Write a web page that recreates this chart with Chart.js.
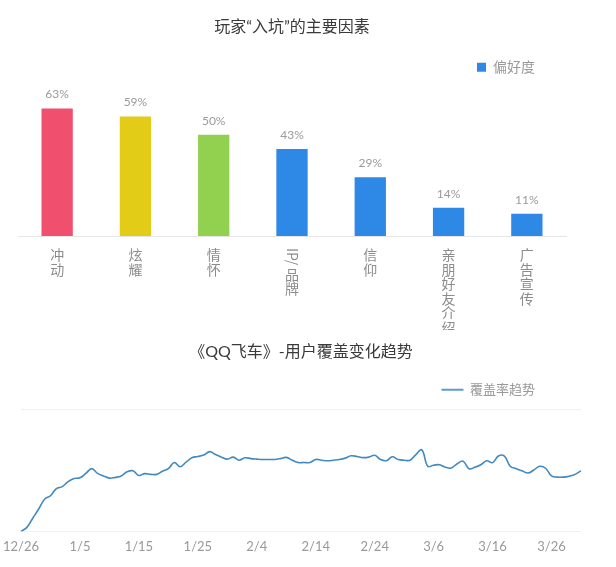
<!DOCTYPE html>
<html>
<head>
<meta charset="utf-8">
<script src="https://cdn.jsdelivr.net/npm/chart.js@4.4.1/dist/chart.umd.min.js"></script>
<style>
html, body { margin: 0; padding: 0; background: #fff; }
#top { position: absolute; left: 0; top: 0; width: 616px; height: 330px; }
#bottom { position: absolute; left: 0; top: 330px; width: 616px; height: 237px; }
</style>
</head>
<body>
<div id="top"><canvas id="barChart"></canvas></div>
<div id="bottom"><canvas id="lineChart"></canvas></div>
<script>
// bar chart data
var factors = ['冲动', '炫耀', '情怀', 'IP/品牌', '信仰', '亲朋好友介绍', '广告宣传'];
var preference = [63, 59, 50, 43, 29, 14, 11];
var barColors = ['#f0506e', '#e2cc18', '#92d050', '#2e89e6', '#2e89e6', '#2e89e6', '#2e89e6'];

// line chart data
var decDays = ['12/26', '12/27', '12/28', '12/29', '12/30', '12/31'];
var janDays = ['1/1', '1/2', '1/3', '1/4', '1/5', '1/6', '1/7', '1/8', '1/9', '1/10',
    '1/11', '1/12', '1/13', '1/14', '1/15', '1/16', '1/17', '1/18', '1/19', '1/20',
    '1/21', '1/22', '1/23', '1/24', '1/25', '1/26', '1/27', '1/28', '1/29', '1/30', '1/31'];
var febDays = ['2/1', '2/2', '2/3', '2/4', '2/5', '2/6', '2/7', '2/8', '2/9', '2/10',
    '2/11', '2/12', '2/13', '2/14', '2/15', '2/16', '2/17', '2/18', '2/19', '2/20',
    '2/21', '2/22', '2/23', '2/24', '2/25', '2/26', '2/27', '2/28'];
var marDays = ['3/1', '3/2', '3/3', '3/4', '3/5', '3/6', '3/7', '3/8', '3/9', '3/10',
    '3/11', '3/12', '3/13', '3/14', '3/15', '3/16', '3/17', '3/18', '3/19', '3/20',
    '3/21', '3/22', '3/23', '3/24', '3/25', '3/26', '3/27', '3/28', '3/29', '3/30', '3/31'];
var dayTicks = ['12/26', '1/5', '1/15', '1/25', '2/4', '2/14', '2/24', '3/6', '3/16', '3/26'];
var coverage = [
    0, 3.3, 10.8, 18.3, 26.3, 29.2, 35, 36.7, 40.8, 43.3,
    43.9, 47.5, 51.4, 47.5, 45.4, 43.6, 44.2, 45.4, 48.8, 49.6,
    45.8, 47.3, 46.7, 46.7, 49.2, 51.4, 56.4, 52.9, 56.7, 60.3,
    61.3, 62.5, 65.3, 62.9, 60.8, 59.2, 60.8, 58.3, 60.3, 59.6,
    59.2, 58.9, 58.9, 58.9, 59.6, 60.6, 58.3, 56.4, 56.4, 56.4,
    58.9, 58.3, 57.8, 58.3, 58.9, 60, 61.9, 61.3, 60.4, 60.8,
    62.3, 58.8, 57.9, 61.1, 58.8, 58.3, 58.3, 62.9, 66.7, 53.3,
    54.2, 54.6, 52.5, 51.9, 55.4, 57.5, 51.3, 52.5, 54.6, 57.8,
    56.3, 61.7, 61.7, 53.3, 51.3, 49.6, 47.8, 50.3, 53.3, 51.7,
    45.4, 44.4, 44.4, 45.2, 46.7, 49.6
];
var days = decDays.concat(janDays, febDays, marDays);

Chart.defaults.font.family = "Lato, 'Noto Sans CJK SC', sans-serif";
Chart.defaults.color = '#999';

// move the legend in from the right edge
var legendShift = {
    id: 'legendShift',
    afterLayout: function (chart, args, opts) {
        if (chart.legend && opts.by) {
            chart.legend.right -= opts.by;
        }
    }
};

// percentages over the bars
var barValues = {
    id: 'barValues',
    afterDatasetsDraw: function (chart) {
        var ctx = chart.ctx;
        var meta = chart.getDatasetMeta(0);
        ctx.save();
        ctx.fillStyle = '#9a9a9a';
        ctx.font = "12px Lato, 'Noto Sans CJK SC', sans-serif";
        ctx.textAlign = 'center';
        ctx.textBaseline = 'middle';
        meta.data.forEach(function (bar, i) {
            ctx.fillText(preference[i] + '%', bar.x, bar.y - 14);
        });
        ctx.restore();
    }
};

// category names written top to bottom, latin runs turned sideways
var verticalLabels = {
    id: 'verticalLabels',
    afterDraw: function (chart) {
        var ctx = chart.ctx;
        var xs = chart.scales.x;
        ctx.save();
        ctx.fillStyle = '#8c8c8c';
        ctx.font = "14px 'Noto Sans CJK SC', sans-serif";
        ctx.textAlign = 'center';
        ctx.textBaseline = 'middle';
        chart.data.labels.forEach(function (label, i) {
            var x = xs.getPixelForTick(i);
            var top = chart.chartArea.bottom + 12;
            var parts = label.match(/[\x00-\x7f]+|[^\x00-\x7f]/g);
            parts.forEach(function (p) {
                if (/^[\x00-\x7f]+$/.test(p)) {
                    var w = ctx.measureText(p).width;
                    ctx.save();
                    ctx.translate(x, top + w / 2);
                    ctx.rotate(Math.PI / 2);
                    ctx.fillText(p, 0, 0);
                    ctx.restore();
                    top += w + 2;
                } else {
                    ctx.fillText(p, x, top + 7);
                    top += 14.5;
                }
            });
        });
        ctx.restore();
    }
};

new Chart(document.getElementById('barChart'), {
    type: 'bar',
    data: {
        labels: factors,
        datasets: [{
            label: '偏好度',
            data: preference,
            backgroundColor: barColors,
            barPercentage: 0.4,
            categoryPercentage: 1
        }]
    },
    options: {
        responsive: true,
        maintainAspectRatio: false,
        animation: false,
        layout: { padding: { left: 18, right: 50, top: 0, bottom: 86 } },
        plugins: {
            title: {
                display: true,
                text: '玩家“入坑”的主要因素',
                color: '#3a3a3a',
                font: { size: 16, weight: 'normal' },
                padding: { top: 17, bottom: 14 }
            },
            legend: {
                display: true,
                align: 'end',
                labels: {
                    boxWidth: 9,
                    boxHeight: 9,
                    padding: 10,
                    color: '#999',
                    font: { size: 14 },
                    generateLabels: function () {
                        return [{ text: '偏好度', fillStyle: '#2e89e6', strokeStyle: '#2e89e6', fontColor: '#999', lineWidth: 0, hidden: false, datasetIndex: 0 }];
                    }
                }
            },
            legendShift: { by: 21 },
            tooltip: { enabled: false }
        },
        scales: {
            x: {
                grid: { display: false },
                border: { display: true, color: '#e6e6e6' },
                ticks: { display: false }
            },
            y: {
                display: false,
                min: 0,
                max: 75
            }
        }
    },
    plugins: [legendShift, barValues, verticalLabels]
});

new Chart(document.getElementById('lineChart'), {
    type: 'line',
    data: {
        labels: days,
        datasets: [{
            label: '覆盖率趋势',
            data: coverage,
            borderColor: '#4189c0',
            borderWidth: 1.6,
            backgroundColor: '#4189c0',
            fill: false,
            pointRadius: 0,
            tension: 0.4
        }]
    },
    options: {
        responsive: true,
        maintainAspectRatio: false,
        animation: false,
        layout: { padding: { left: 21, right: 35, top: 0, bottom: 12 } },
        plugins: {
            title: {
                display: true,
                text: '《QQ飞车》-用户覆盖变化趋势',
                color: '#3a3a3a',
                font: { size: 16, weight: 'normal' },
                padding: { top: 12, bottom: 12 }
            },
            legend: {
                display: true,
                align: 'end',
                labels: {
                    boxWidth: 22,
                    boxHeight: 2,
                    padding: 10,
                    color: '#999',
                    font: { size: 13 },
                    generateLabels: function () {
                        return [{ text: '覆盖率趋势', fillStyle: '#5b9bd5', strokeStyle: '#5b9bd5', fontColor: '#999', lineWidth: 0, hidden: false, datasetIndex: 0 }];
                    }
                }
            },
            legendShift: { by: 36 },
            tooltip: { enabled: false }
        },
        scales: {
            x: {
                grid: { display: false },
                border: { display: false },
                ticks: {
                    autoSkip: false,
                    maxRotation: 0,
                    padding: 0,
                    color: '#999',
                    font: { size: 13 },
                    callback: function (val, i) {
                        return dayTicks.indexOf(days[i]) >= 0 ? days[i] : '';
                    }
                }
            },
            y: {
                min: 0,
                max: 102.5,
                afterBuildTicks: function (axis) {
                    axis.ticks = [{ value: 0 }, { value: 100 }];
                },
                grid: { color: '#f0f0f0', drawTicks: false },
                border: { display: false },
                ticks: { display: false }
            }
        }
    },
    plugins: [legendShift]
});
</script>
</body>
</html>
